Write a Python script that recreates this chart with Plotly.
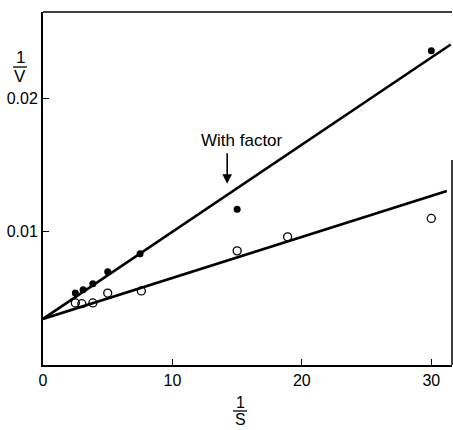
import plotly.graph_objects as go

# Data
with_factor_x = [2.5, 3.1, 3.85, 5.0, 7.5, 15.0, 30.0]
with_factor_y = [0.0054, 0.00565, 0.0061, 0.0070, 0.00835, 0.0117, 0.0236]

without_factor_x = [2.5, 3.0, 3.85, 5.0, 7.6, 15.0, 18.9, 30.0]
without_factor_y = [0.00466, 0.0046, 0.00466, 0.0054, 0.00556, 0.00857, 0.00962, 0.0110]

intercept = 0.00346
slope_with = 0.000654
slope_without = 0.000308
fit_x_with = [0, 31.5]
fit_x_without = [0, 31.2]

x_ticks = [0, 10, 20, 30]
y_ticks = [0.01, 0.02]
y_tick_labels = ["0.01", "0.02"]

FONT = "Liberation Sans, Arial, sans-serif"

fig = go.Figure()
fig.add_trace(go.Scatter(
    x=fit_x_with, y=[intercept + slope_with * v for v in fit_x_with],
    mode="lines", line=dict(color="black", width=2.6), showlegend=False))
fig.add_trace(go.Scatter(
    x=fit_x_without, y=[intercept + slope_without * v for v in fit_x_without],
    mode="lines", line=dict(color="black", width=2.6), showlegend=False))
fig.add_trace(go.Scatter(
    x=with_factor_x, y=with_factor_y, mode="markers",
    marker=dict(symbol="circle", size=7, color="black"), showlegend=False))
fig.add_trace(go.Scatter(
    x=without_factor_x, y=without_factor_y, mode="markers",
    marker=dict(symbol="circle-open", size=8, color="black", line=dict(width=1.3)),
    showlegend=False))

L, T, R, B = 43, 12, 452, 365
W, H = 453, 430

def px(x):
    return (x - L) / (R - L)

def py(y):
    return (B - y) / (B - T)

def label(text, x, y, size=17):
    return dict(text=text, x=px(x), y=py(y), xref="paper", yref="paper",
                xanchor="center", yanchor="middle", showarrow=False,
                font=dict(size=size, family=FONT, color="black"))

annotations = [
    dict(text="With factor", x=15.4, y=0.01685, xref="x", yref="y", showarrow=False,
         xanchor="center", yanchor="middle",
         font=dict(size=17, family=FONT, color="black")),
    dict(text="", x=14.23, y=0.0136, ax=14.23, ay=0.0160, xref="x", yref="y",
         axref="x", ayref="y", showarrow=True, arrowhead=2, arrowsize=1.2,
         arrowwidth=1.6, arrowcolor="black"),
    label("1", 20, 58),
    label("V", 20, 76),
    label("1", 240, 403, size=16),
    label("S", 240, 419, size=16),
]

shapes = [
    dict(type="line", xref="paper", yref="paper", x0=px(233), x1=px(247), y0=py(411), y1=py(411),
         line=dict(color="black", width=1.3)),
    dict(type="line", xref="paper", yref="paper", x0=px(13), x1=px(27), y0=py(67), y1=py(67),
         line=dict(color="black", width=1.3)),
    # top border
    dict(type="line", xref="paper", yref="paper", x0=0, x1=1, y0=1, y1=1,
         line=dict(color="black", width=1.5)),
    # right border (partial, as in reference)
    dict(type="line", xref="paper", yref="paper", x0=1, x1=1, y0=0, y1=py(160),
         line=dict(color="black", width=1.5)),
]

fig.update_layout(
    width=W, height=H,
    margin=dict(l=L, r=W - R, t=T, b=H - B),
    plot_bgcolor="white", paper_bgcolor="white",
    font=dict(family=FONT, size=16, color="black"),
    annotations=annotations, shapes=shapes,
    xaxis=dict(range=[0, 31.6], tickvals=x_ticks, ticks="inside", ticklen=6,
               tickwidth=1.3, tickcolor="black", showgrid=False, zeroline=False,
               showline=True, linecolor="black", linewidth=2, mirror=False,
               tickfont=dict(size=16, family=FONT)),
    yaxis=dict(range=[0, 0.0265], tickvals=y_ticks, ticktext=y_tick_labels,
               ticks="inside", ticklen=6, tickwidth=1.3, tickcolor="black",
               showgrid=False, zeroline=False, showline=True, linecolor="black",
               linewidth=2, mirror=False, tickfont=dict(size=16, family=FONT)),
)

fig.write_html(
    "out.html",
    config={"displayModeBar": False},
    post_script="document.body.style.margin='0';document.body.style.overflow='hidden';",
)
